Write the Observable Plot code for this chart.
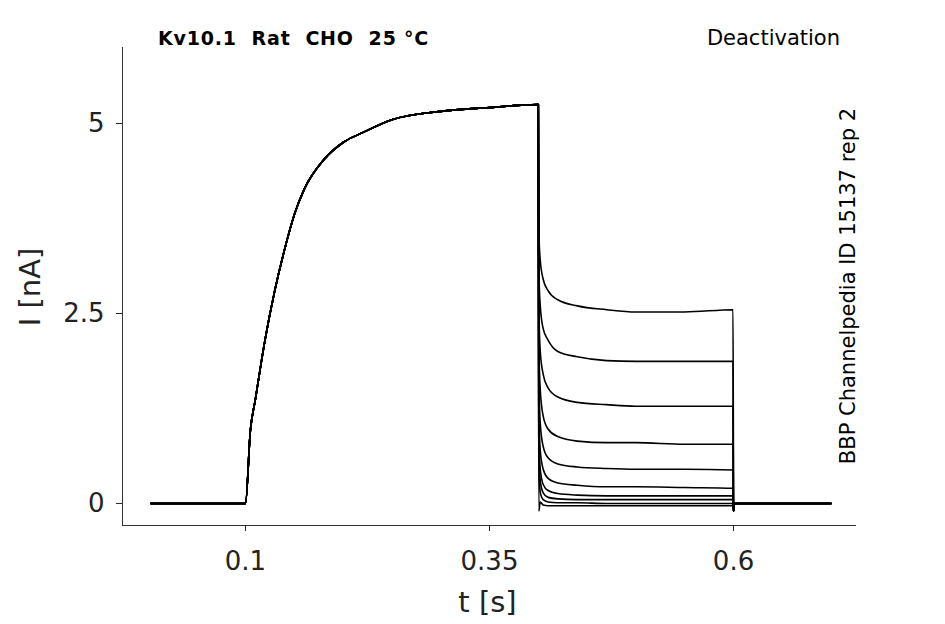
<!DOCTYPE html>
<html><head><meta charset="utf-8">
<script src="https://cdn.jsdelivr.net/npm/d3@7"></script>
<script src="https://cdn.jsdelivr.net/npm/@observablehq/plot@0.6"></script>
<style>body{margin:0;background:#fff;font-family:"DejaVu Sans",sans-serif}#c{position:relative;width:945px;height:624px}
.t{position:absolute;font-family:"DejaVu Sans",sans-serif;color:#000}</style>
</head><body><div id="c"></div>
<script>
const baseT = [0.003, 0.05, 0.1];
const actT = [0.1, 0.105, 0.11, 0.12, 0.13, 0.14, 0.15, 0.16, 0.18, 0.2, 0.22, 0.25, 0.3, 0.35, 0.3995];
const actV = [0, 0.96, 1.36, 2.15, 2.8, 3.34, 3.8, 4.13, 4.52, 4.75, 4.88, 5.05, 5.16, 5.21, 5.25];
const tailT = [0.4, 0.4005, 0.402, 0.405, 0.41, 0.42, 0.44, 0.47, 0.5, 0.55, 0.5995];
const tails = [
  [5.25,3.6,3.2,2.95,2.8,2.68,2.6,2.55,2.52,2.52,2.55],
  [5.25,3.1,2.6,2.3,2.15,2.0,1.93,1.88,1.87,1.87,1.87],
  [5.25,2.6,2.0,1.7,1.52,1.4,1.33,1.3,1.28,1.28,1.28],
  [5.25,2.1,1.5,1.15,0.98,0.88,0.82,0.8,0.8,0.78,0.78],
  [5.25,1.7,1.05,0.75,0.6,0.52,0.48,0.46,0.45,0.45,0.44],
  [5.25,1.3,0.7,0.45,0.33,0.27,0.24,0.22,0.22,0.21,0.2],
  [5.25,1.0,0.45,0.25,0.17,0.13,0.11,0.1,0.1,0.1,0.1],
  [5.25,0.8,0.3,0.14,0.08,0.06,0.05,0.05,0.05,0.05,0.05],
  [5.25,0.6,0.15,0.05,0.02,0.01,0.01,0,0,0,0],
  [5.25,-0.1,0.02,-0.02,-0.03,-0.03,-0.03,-0.03,-0.03,-0.03,-0.03]
];
const postT = [0.6, 0.601, 0.65, 0.7];
const postV = [-0.1, 0, 0, 0];
const xTicks = [0.1, 0.35, 0.6];
const yTicks = [0, 2.5, 5];

const data = [];
tails.forEach((tv, k) => {
  baseT.forEach(t => data.push({k, t, v: 0}));
  actT.forEach((t, i) => data.push({k, t, v: actV[i]}));
  tailT.forEach((t, i) => data.push({k, t, v: tv[i]}));
  postT.forEach((t, i) => data.push({k, t, v: postV[i]}));
});

const plot = Plot.plot({
  width: 945, height: 624,
  marginLeft: 122, marginRight: 89, marginTop: 47, marginBottom: 99,
  style: {fontFamily: "DejaVu Sans", fontSize: "26px", color: "#222", background: "#fff"},
  x: {domain: [-0.026, 0.726], label: null},
  y: {domain: [-0.29, 6.0], label: null},
  marks: [
    Plot.ruleX([-0.026], {stroke: "#333"}),
    Plot.ruleY([-0.29], {stroke: "#333"}),
    Plot.axisX({ticks: xTicks, tickFormat: d => String(d), fontSize: 26, tickSize: 6, tickPadding: 20, label: null}),
    Plot.axisY({ticks: yTicks, tickFormat: d => String(d), fontSize: 26, tickSize: 6, tickPadding: 12, label: null}),
    Plot.line(data, {x: "t", y: "v", z: "k", stroke: "#000", strokeWidth: 1.6, curve: "monotone-x"})
  ]
});
const c = document.getElementById("c");
c.appendChild(plot);
c.insertAdjacentHTML("beforeend", `
<div class="t" style="left:158px;top:27px;font-size:19px;font-weight:bold;letter-spacing:0.8px">Kv10.1&nbsp; Rat&nbsp; CHO&nbsp; 25 °C</div>
<div class="t" style="right:105px;top:26px;font-size:21px">Deactivation</div>
<div class="t" style="left:0;top:585px;width:945px;text-align:center;padding-left:30px;box-sizing:border-box;font-size:29px;color:#222">t [s]</div>
<div class="t" style="left:30px;top:287px;font-size:29px;color:#222;transform:translate(-50%,-50%) rotate(-90deg);white-space:nowrap">I [nA]</div>
<div class="t" style="left:848px;top:286px;font-size:21px;transform:translate(-50%,-50%) rotate(-90deg);white-space:nowrap">BBP Channelpedia ID 15137 rep 2</div>
`);
</script></body></html>
